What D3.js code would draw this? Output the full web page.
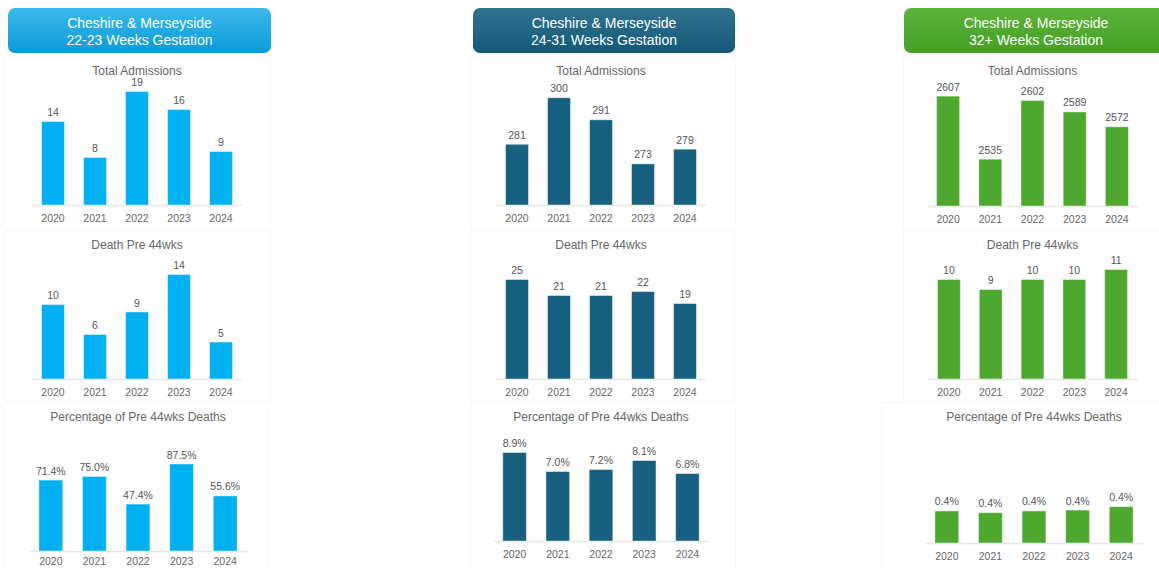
<!DOCTYPE html>
<html>
<head>
<meta charset="utf-8">
<script src="https://cdn.jsdelivr.net/npm/d3@7"></script>
<style>
  body { margin: 0; background: #fff; }
  svg { display: block; font-family: "Liberation Sans", Arial, sans-serif; }
</style>
</head>
<body>
<div id="chart"></div>
<script>
// data
const years = ["2020", "2021", "2022", "2023", "2024"];

const admissions22 = [14, 8, 19, 16, 9];
const deaths22 = [10, 6, 9, 14, 5];
const pct22 = [71.4, 75.0, 47.4, 87.5, 55.6];

const admissions24 = [281, 300, 291, 273, 279];
const deaths24 = [25, 21, 21, 22, 19];
const pct24 = [8.9, 7.0, 7.2, 8.1, 6.8];

const admissions32 = [2607, 2535, 2602, 2589, 2572];
const deaths32 = [10, 9, 10, 10, 11];
const pct32 = [0.38, 0.36, 0.38, 0.39, 0.43];

const chartTitles = ["Total Admissions", "Death Pre 44wks", "Percentage of Pre 44wks Deaths"];

const width = 1159, height = 568;

let svg = d3.select("#chart").append("svg")
    .attr("width", width)
    .attr("height", height);

let defs = svg.append("defs");

// one panel per gestation group
const panels = [
    {
        name: "22-23 Weeks Gestation",
        color: "#00b0f0", top: "#3db8ec", bottom: "#0b9bd8",
        header: [8, 271],
        boxes: [[3, 57, 267, 172], [3, 231, 267, 169], [3, 402, 265, 166]],
        charts: [
            {values: admissions22, x: [32, 242], base: 205, domain: [0, 20], fmt: d3.format("d")},
            {values: deaths22, x: [32, 242], base: 379, domain: [0, 16], fmt: d3.format("d")},
            {values: pct22, x: [29, 247], base: 551, domain: [0, 120], pad: 7, fmt: d => d3.format(".1f")(d) + "%"}
        ]
    },
    {
        name: "24-31 Weeks Gestation",
        color: "#17607f", top: "#30738f", bottom: "#135877",
        header: [473, 735],
        boxes: [[470, 57, 265, 172], [470, 231, 263, 169], [470, 402, 265, 166]],
        charts: [
            {values: admissions24, x: [496, 706], base: 205, domain: [256, 305], fmt: d3.format("d")},
            {values: deaths24, x: [496, 706], base: 379, domain: [0, 30], fmt: d3.format("d")},
            {values: pct24, x: [493, 709], base: 541, domain: [0, 12], fmt: d => d3.format(".1f")(d) + "%"}
        ]
    },
    {
        name: "32+ Weeks Gestation",
        color: "#4ea72e", top: "#5cb33b", bottom: "#44a024",
        header: [904, 1170],
        boxes: [[903, 57, 260, 172], [903, 231, 260, 169], [882, 402, 280, 166]],
        charts: [
            {values: admissions32, x: [927, 1138], base: 206, domain: [2481, 2618], fmt: d3.format("d")},
            {values: deaths32, x: [928, 1137], base: 379, domain: [0, 12], fmt: d3.format("d")},
            {values: pct32, x: [925, 1143], base: 543, domain: [0, 1.4], fmt: d => d3.format(".1f")(d) + "%"}
        ]
    }
];

const titleY = [75, 249, 421];
const plotHeight = 120;

panels.forEach(function (p, pi) {

    // faint visual containers
    p.boxes.forEach(function (b) {
        svg.append("rect")
            .attr("x", b[0] + 0.5).attr("y", b[1] + 0.5)
            .attr("width", b[2]).attr("height", b[3])
            .attr("fill", "#fff")
            .attr("stroke", "#f8f8f8");
    });

    // header box with gradient
    let grad = defs.append("linearGradient")
        .attr("id", "grad" + pi)
        .attr("x1", 0).attr("y1", 0).attr("x2", 0).attr("y2", 1);
    grad.append("stop").attr("offset", "0%").attr("stop-color", p.top);
    grad.append("stop").attr("offset", "100%").attr("stop-color", p.bottom);

    svg.append("rect")
        .attr("x", p.header[0]).attr("y", 8)
        .attr("width", p.header[1] - p.header[0]).attr("height", 45)
        .attr("rx", 7)
        .attr("fill", "url(#grad" + pi + ")");

    let cx = pi === 2 ? 1036 : (p.header[0] + p.header[1]) / 2;
    let ht = svg.append("text")
        .attr("text-anchor", "middle")
        .attr("fill", "#fff")
        .style("font-size", "14px");
    ht.append("tspan").attr("x", cx).attr("y", 28).text("Cheshire & Merseyside");
    ht.append("tspan").attr("x", cx).attr("y", 45).text(p.name);

    p.charts.forEach(function (c, ci) {

        let x = d3.scaleBand()
            .domain(years)
            .range(c.x)
            .paddingInner(0.43)
            .paddingOuter(0.215);

        let y = d3.scaleLinear()
            .domain(c.domain)
            .range([c.base, c.base - plotHeight]);

        let g = svg.append("g");

        // chart title
        g.append("text")
            .attr("x", (c.x[0] + c.x[1]) / 2)
            .attr("y", titleY[ci])
            .attr("text-anchor", "middle")
            .attr("fill", "#666")
            .style("font-size", "12px")
            .text(chartTitles[ci]);

        // category axis
        let axis = g.append("g")
            .attr("transform", "translate(0," + c.base + ")")
            .call(d3.axisBottom(x).tickSize(0).tickPadding(c.pad || 10));
        axis.select(".domain").attr("stroke", "#e6e6e6").attr("stroke-width", 1.5);
        axis.selectAll("text")
            .attr("fill", "#666")
            .style("font-size", "10.5px")
            .style("font-family", "\"Liberation Sans\", Arial, sans-serif");

        let data = years.map((yr, i) => [yr, c.values[i]]);

        let bars = g.selectAll(".bar")
            .data(data)
            .enter()
            .append("g");

        bars.append("rect")
            .attr("class", "bar")
            .attr("x", d => x(d[0]) + 0.5)
            .attr("width", x.bandwidth() - 1)
            .attr("y", d => y(d[1]) + 0.5)
            .attr("height", d => c.base - y(d[1]) - 0.5)
            .attr("fill", p.color)
            .attr("stroke", "rgba(255,255,255,0.45)")
            .attr("stroke-width", 1);

        bars.append("text")
            .attr("x", d => x(d[0]) + x.bandwidth() / 2)
            .attr("y", d => y(d[1]) - 5)
            .attr("text-anchor", "middle")
            .attr("fill", "#555")
            .style("font-size", "10.5px")
            .text(d => c.fmt(d[1]));
    });
});
</script>
</body>
</html>
